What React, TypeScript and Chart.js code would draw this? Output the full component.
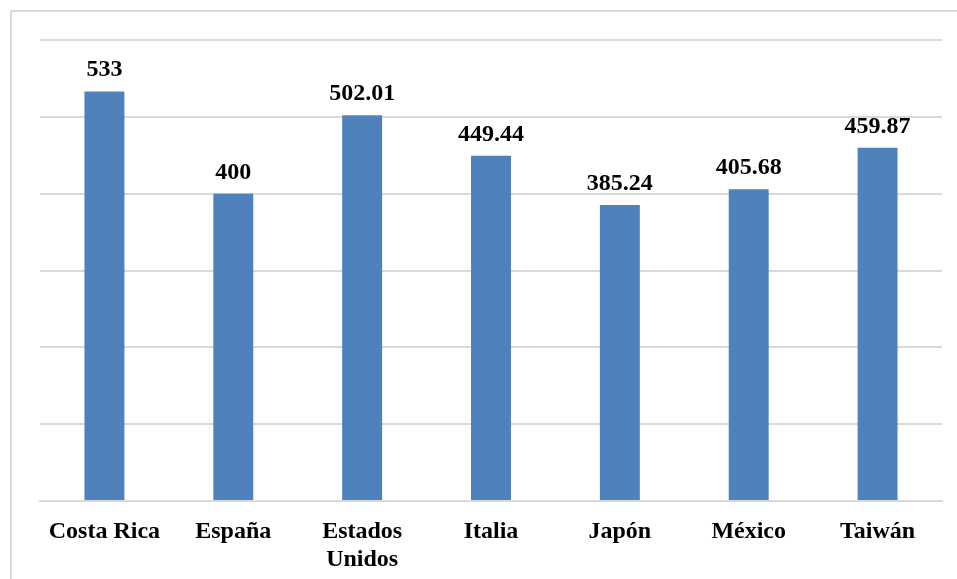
import React, { useEffect, useRef } from "react";
import { Chart, registerables } from "chart.js";

Chart.register(...registerables);

const categories: (string | string[])[] = ["Costa Rica", "España", ["Estados", "Unidos"], "Italia", "Japón", "México", "Taiwán"];
const values: number[] = [533, 400, 502.01, 449.44, 385.24, 405.68, 459.87];
const valueLabels: string[] = ["533", "400", "502.01", "449.44", "385.24", "405.68", "459.87"];

const FONT = "'Liberation Serif', 'Times New Roman', serif";

const labelPlugin = {
  id: "valueLabels",
  afterDatasetsDraw(chart: any) {
    const ctx = chart.ctx;
    const meta = chart.getDatasetMeta(0);
    ctx.save();
    ctx.font = `bold 24px ${FONT}`;
    ctx.fillStyle = "#000";
    ctx.textAlign = "center";
    ctx.textBaseline = "alphabetic";
    meta.data.forEach((bar: any, i: number) => {
      ctx.fillText(valueLabels[i], bar.x, bar.y - 15);
    });
    ctx.restore();
  },
};

export default function App() {
  const ref = useRef<HTMLCanvasElement>(null);
  useEffect(() => {
    document.body.style.margin = "0";
    const chart = new Chart(ref.current!, {
      type: "bar",
      data: {
        labels: categories as any,
        datasets: [
          {
            data: values,
            backgroundColor: "#4F81BD",
            categoryPercentage: 1,
            barPercentage: 0.31,
          },
        ],
      },
      options: {
        animation: false,
        responsive: false,
        layout: { padding: { left: 40, right: 15, top: 40, bottom: 0 } },
        plugins: { legend: { display: false }, tooltip: { enabled: false } },
        scales: {
          x: {
            grid: { display: false },
            border: { color: "#d9d9d9", width: 2 },
            ticks: {
              color: "#000",
              font: { family: FONT, size: 24, weight: "bold", lineHeight: 1.17 },
              padding: 9,
              maxRotation: 0,
              autoSkip: false,
            },
            afterFit: (s: any) => {
              s.height = 78;
            },
          },
          y: {
            min: 0,
            max: 600,
            ticks: { stepSize: 100, display: false },
            grid: { color: "#d9d9d9", lineWidth: 2, drawTicks: false },
            border: { display: false },
            afterFit: (s: any) => {
              s.width = 0;
            },
          },
        },
      },
      plugins: [labelPlugin],
    });
    return () => chart.destroy();
  }, []);
  return (
    <div style={{ position: "relative", width: 957, height: 579, overflow: "hidden", background: "#fff" }}>
      <canvas ref={ref} width={957} height={579} style={{ position: "absolute", left: 0, top: 0 }} />
      <div
        style={{
          position: "absolute",
          left: 10,
          top: 10,
          width: 980,
          height: 600,
          border: "2px solid #d9d9d9",
          pointerEvents: "none",
        }}
      />
    </div>
  );
}
